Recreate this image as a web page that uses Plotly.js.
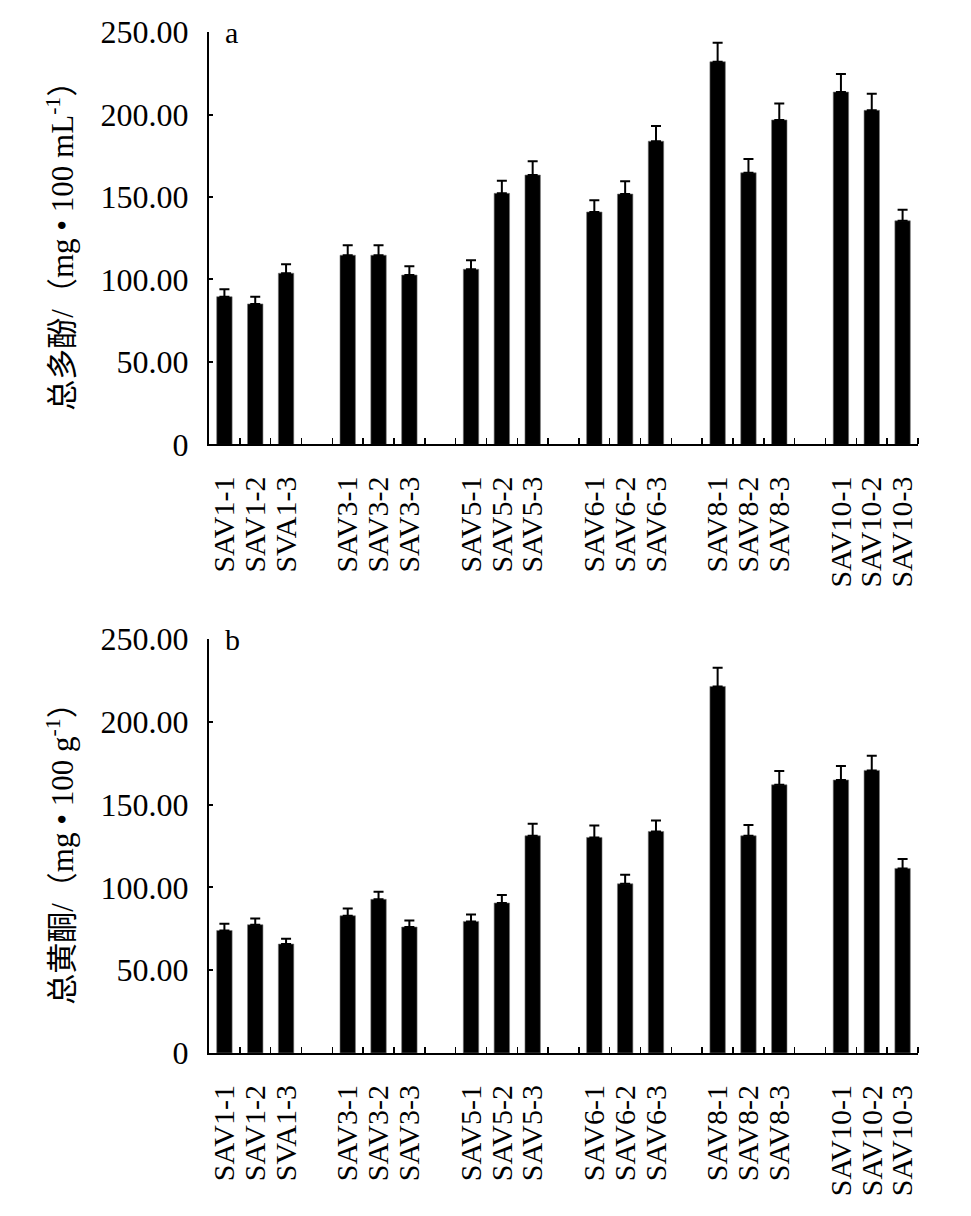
<!DOCTYPE html>
<html>
<head>
<meta charset="utf-8">
<script src="https://cdn.plot.ly/plotly-3.0.1.min.js"></script>
<style>html,body{margin:0;padding:0;background:#fff;}#chart{width:971px;height:1216px;}</style>
</head>
<body>
<div id="chart"></div>
<script>
// ---- data ----
const groups = ["SAV1", "SAV3", "SAV5", "SAV6", "SAV8", "SAV10"];
const labels = ["SAV1-1", "SAV1-2", "SVA1-3",
                "SAV3-1", "SAV3-2", "SAV3-3",
                "SAV5-1", "SAV5-2", "SAV5-3",
                "SAV6-1", "SAV6-2", "SAV6-3",
                "SAV8-1", "SAV8-2", "SAV8-3",
                "SAV10-1", "SAV10-2", "SAV10-3"];
// a: total polyphenols, mg·100 mL-1
const polyphenol = [89.6, 85.2, 103.8, 114.7, 114.7, 102.7, 106.2, 152.2, 163.3,
                    140.9, 151.8, 183.8, 232.0, 164.7, 196.7, 213.6, 202.5, 135.6];
const polyphenolErr = [4.5, 4.4, 5.4, 6.0, 6.0, 5.3, 5.4, 7.7, 8.3,
                       7.1, 7.7, 9.3, 11.5, 8.3, 9.9, 10.9, 10.1, 6.7];
// b: total flavonoids, mg·100 g-1
const flavonoid = [74.0, 77.5, 65.8, 82.9, 92.8, 76.1, 79.5, 90.6, 131.2,
                   130.2, 102.2, 133.8, 221.4, 131.2, 162.0, 164.9, 170.7, 111.5];
const flavonoidErr = [4.1, 3.8, 3.2, 4.4, 4.6, 4.0, 4.2, 4.8, 7.3,
                      7.2, 5.4, 6.6, 11.3, 6.5, 8.3, 8.4, 8.8, 5.7];
const yTickVals = [0, 50, 100, 150, 200, 250];
const yTickText = ["0", "50.00", "100.00", "150.00", "200.00", "250.00"];
const titleA = "总多酚/（mg • 100 mL<sup>-1</sup>）";
const titleB = "总黄酮/（mg • 100 g<sup>-1</sup>）";

// ---- layout helpers ----
const perGroup = labels.length / groups.length;      // 3 bars per group
const slot = perGroup + 1;                            // one empty slot between groups
const xs = labels.map((_, i) => Math.floor(i / perGroup) * slot + (i % perGroup));
const nSlots = groups.length * slot - 1;
const boundaries = [];
for (let k = 0; k < nSlots; k++) boundaries.push(k + 0.5);

const FONT = "Liberation Serif, Times New Roman, Noto Sans CJK SC, serif";

function barTrace(vals, errs, xa, ya) {
  return {
    type: "bar", x: xs, y: vals, xaxis: xa, yaxis: ya,
    width: 0.5,
    marker: {color: "#000", line: {color: "#777", width: 0.6}},
    error_y: {type: "data", array: errs, symmetric: false,
              arrayminus: errs.map(() => 0), color: "#000", thickness: 2, width: 5},
    showlegend: false, hoverinfo: "x+y"
  };
}

function xAxis(domainAnchor) {
  return {
    anchor: domainAnchor, range: [-0.5, nSlots - 0.5],
    tickmode: "array", tickvals: xs, ticktext: labels, tickangle: -90,
    ticks: "", showline: true, linecolor: "#000", linewidth: 2,
    showgrid: false, zeroline: false, ticklabelstandoff: 18,
    tickfont: {family: FONT, size: 30, color: "#000"},
    minor: {tickmode: "array", tickvals: boundaries, ticks: "inside",
            ticklen: 6, tickwidth: 1.5, tickcolor: "#000", showgrid: false},
    fixedrange: true
  };
}

function yAxis(domain, anchor, title) {
  return {
    domain: domain, anchor: anchor, range: [0, 250],
    tickmode: "array", tickvals: yTickVals, ticktext: yTickText,
    ticks: "inside", ticklen: 4, tickwidth: 2, tickcolor: "#000",
    showline: true, linecolor: "#000", linewidth: 2,
    showgrid: false, zeroline: false, ticklabelstandoff: 12,
    tickfont: {family: FONT, size: 32, color: "#000"},
    title: {text: title, font: {family: FONT, size: 31, color: "#000"}, standoff: 18},
    fixedrange: true
  };
}

const data = [
  barTrace(polyphenol, polyphenolErr, "x", "y"),
  barTrace(flavonoid, flavonoidErr, "x2", "y2")
];

const layout = {
  width: 971, height: 1216,
  margin: {l: 209, r: 53, t: 32, b: 163},
  paper_bgcolor: "#fff", plot_bgcolor: "#fff",
  xaxis: xAxis("y"),
  yaxis: yAxis([0.596, 1], "x", titleA),
  xaxis2: xAxis("y2"),
  yaxis2: yAxis([0, 0.4054], "x2", titleB),
  annotations: [
    {text: "a", xref: "paper", yref: "y domain", x: 0.02, y: 1.0, xanchor: "left", yanchor: "middle",
     showarrow: false, font: {family: FONT, size: 30, color: "#000"}},
    {text: "b", xref: "paper", yref: "y2 domain", x: 0.02, y: 1.0, xanchor: "left", yanchor: "middle",
     showarrow: false, font: {family: FONT, size: 30, color: "#000"}}
  ],
  bargap: 0.5
};

Plotly.newPlot("chart", data, layout, {displayModeBar: false, staticPlot: true});
</script>
</body>
</html>
